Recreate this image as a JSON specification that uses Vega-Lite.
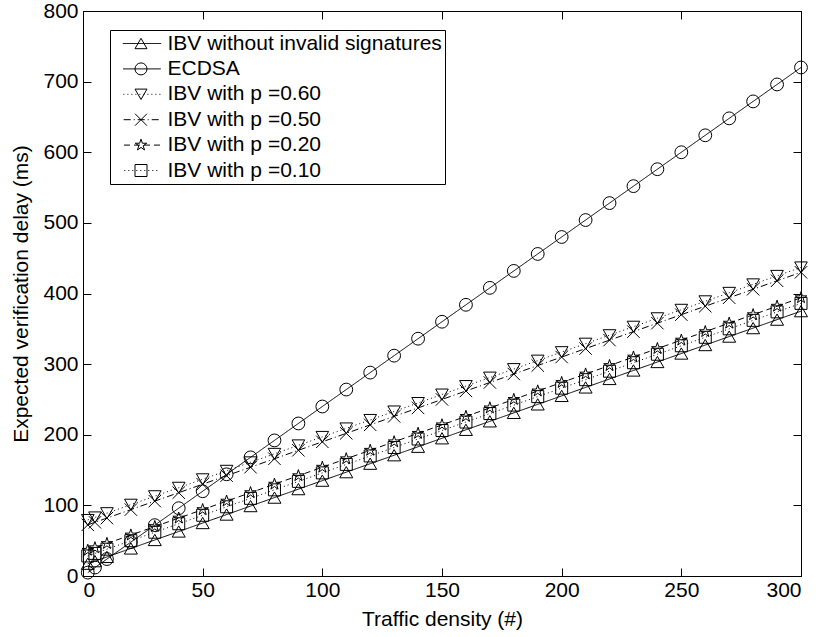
{
  "$schema": "https://vega.github.io/schema/vega-lite/v6.json",
  "width": 718,
  "height": 565,
  "autosize": {"type": "none"},
  "padding": {"left": 83, "top": 11, "right": 19, "bottom": 61},
  "background": "white",
  "config": {
    "font": "Liberation Sans",
    "view": {"stroke": "black", "strokeWidth": 1},
    "axis": {
      "grid": false,
      "labelFont": "Liberation Sans",
      "labelFontSize": 21,
      "labelColor": "black",
      "titleFont": "Liberation Sans",
      "titleFontSize": 21,
      "titleFontWeight": "normal",
      "titleColor": "black",
      "domainColor": "black",
      "domainWidth": 1,
      "tickColor": "black",
      "tickWidth": 1,
      "tickSize": -8
    }
  },
  "data": {
    "values": [
      {"series": "IBV without invalid signatures", "x": 2, "y": 17.4},
      {"series": "IBV without invalid signatures", "x": 5, "y": 21},
      {"series": "IBV without invalid signatures", "x": 10, "y": 27},
      {"series": "IBV without invalid signatures", "x": 20, "y": 39},
      {"series": "IBV without invalid signatures", "x": 30, "y": 51},
      {"series": "IBV without invalid signatures", "x": 40, "y": 63},
      {"series": "IBV without invalid signatures", "x": 50, "y": 75},
      {"series": "IBV without invalid signatures", "x": 60, "y": 87},
      {"series": "IBV without invalid signatures", "x": 70, "y": 99},
      {"series": "IBV without invalid signatures", "x": 80, "y": 111},
      {"series": "IBV without invalid signatures", "x": 90, "y": 123},
      {"series": "IBV without invalid signatures", "x": 100, "y": 135},
      {"series": "IBV without invalid signatures", "x": 110, "y": 147},
      {"series": "IBV without invalid signatures", "x": 120, "y": 159},
      {"series": "IBV without invalid signatures", "x": 130, "y": 171},
      {"series": "IBV without invalid signatures", "x": 140, "y": 183},
      {"series": "IBV without invalid signatures", "x": 150, "y": 195},
      {"series": "IBV without invalid signatures", "x": 160, "y": 207},
      {"series": "IBV without invalid signatures", "x": 170, "y": 219},
      {"series": "IBV without invalid signatures", "x": 180, "y": 231},
      {"series": "IBV without invalid signatures", "x": 190, "y": 243},
      {"series": "IBV without invalid signatures", "x": 200, "y": 255},
      {"series": "IBV without invalid signatures", "x": 210, "y": 267},
      {"series": "IBV without invalid signatures", "x": 220, "y": 279},
      {"series": "IBV without invalid signatures", "x": 230, "y": 291},
      {"series": "IBV without invalid signatures", "x": 240, "y": 303},
      {"series": "IBV without invalid signatures", "x": 250, "y": 315},
      {"series": "IBV without invalid signatures", "x": 260, "y": 327},
      {"series": "IBV without invalid signatures", "x": 270, "y": 339},
      {"series": "IBV without invalid signatures", "x": 280, "y": 351},
      {"series": "IBV without invalid signatures", "x": 290, "y": 363},
      {"series": "IBV without invalid signatures", "x": 300, "y": 375},
      {"series": "ECDSA", "x": 2, "y": 4.8},
      {"series": "ECDSA", "x": 5, "y": 12},
      {"series": "ECDSA", "x": 10, "y": 24},
      {"series": "ECDSA", "x": 20, "y": 48},
      {"series": "ECDSA", "x": 30, "y": 72},
      {"series": "ECDSA", "x": 40, "y": 96},
      {"series": "ECDSA", "x": 50, "y": 120},
      {"series": "ECDSA", "x": 60, "y": 144},
      {"series": "ECDSA", "x": 70, "y": 168},
      {"series": "ECDSA", "x": 80, "y": 192},
      {"series": "ECDSA", "x": 90, "y": 216},
      {"series": "ECDSA", "x": 100, "y": 240},
      {"series": "ECDSA", "x": 110, "y": 264},
      {"series": "ECDSA", "x": 120, "y": 288},
      {"series": "ECDSA", "x": 130, "y": 312},
      {"series": "ECDSA", "x": 140, "y": 336},
      {"series": "ECDSA", "x": 150, "y": 360},
      {"series": "ECDSA", "x": 160, "y": 384},
      {"series": "ECDSA", "x": 170, "y": 408},
      {"series": "ECDSA", "x": 180, "y": 432},
      {"series": "ECDSA", "x": 190, "y": 456},
      {"series": "ECDSA", "x": 200, "y": 480},
      {"series": "ECDSA", "x": 210, "y": 504},
      {"series": "ECDSA", "x": 220, "y": 528},
      {"series": "ECDSA", "x": 230, "y": 552},
      {"series": "ECDSA", "x": 240, "y": 576},
      {"series": "ECDSA", "x": 250, "y": 600},
      {"series": "ECDSA", "x": 260, "y": 624},
      {"series": "ECDSA", "x": 270, "y": 648},
      {"series": "ECDSA", "x": 280, "y": 672},
      {"series": "ECDSA", "x": 290, "y": 696},
      {"series": "ECDSA", "x": 300, "y": 720},
      {"series": "IBV with p =0.60", "x": 2, "y": 79.4},
      {"series": "IBV with p =0.60", "x": 5, "y": 83},
      {"series": "IBV with p =0.60", "x": 10, "y": 89},
      {"series": "IBV with p =0.60", "x": 20, "y": 101},
      {"series": "IBV with p =0.60", "x": 30, "y": 113},
      {"series": "IBV with p =0.60", "x": 40, "y": 125},
      {"series": "IBV with p =0.60", "x": 50, "y": 137},
      {"series": "IBV with p =0.60", "x": 60, "y": 149},
      {"series": "IBV with p =0.60", "x": 70, "y": 161},
      {"series": "IBV with p =0.60", "x": 80, "y": 173},
      {"series": "IBV with p =0.60", "x": 90, "y": 185},
      {"series": "IBV with p =0.60", "x": 100, "y": 197},
      {"series": "IBV with p =0.60", "x": 110, "y": 209},
      {"series": "IBV with p =0.60", "x": 120, "y": 221},
      {"series": "IBV with p =0.60", "x": 130, "y": 233},
      {"series": "IBV with p =0.60", "x": 140, "y": 245},
      {"series": "IBV with p =0.60", "x": 150, "y": 257},
      {"series": "IBV with p =0.60", "x": 160, "y": 269},
      {"series": "IBV with p =0.60", "x": 170, "y": 281},
      {"series": "IBV with p =0.60", "x": 180, "y": 293},
      {"series": "IBV with p =0.60", "x": 190, "y": 305},
      {"series": "IBV with p =0.60", "x": 200, "y": 317},
      {"series": "IBV with p =0.60", "x": 210, "y": 329},
      {"series": "IBV with p =0.60", "x": 220, "y": 341},
      {"series": "IBV with p =0.60", "x": 230, "y": 353},
      {"series": "IBV with p =0.60", "x": 240, "y": 365},
      {"series": "IBV with p =0.60", "x": 250, "y": 377},
      {"series": "IBV with p =0.60", "x": 260, "y": 389},
      {"series": "IBV with p =0.60", "x": 270, "y": 401},
      {"series": "IBV with p =0.60", "x": 280, "y": 413},
      {"series": "IBV with p =0.60", "x": 290, "y": 425},
      {"series": "IBV with p =0.60", "x": 300, "y": 437},
      {"series": "IBV with p =0.50", "x": 2, "y": 72.4},
      {"series": "IBV with p =0.50", "x": 5, "y": 76},
      {"series": "IBV with p =0.50", "x": 10, "y": 82},
      {"series": "IBV with p =0.50", "x": 20, "y": 94},
      {"series": "IBV with p =0.50", "x": 30, "y": 106},
      {"series": "IBV with p =0.50", "x": 40, "y": 118},
      {"series": "IBV with p =0.50", "x": 50, "y": 130},
      {"series": "IBV with p =0.50", "x": 60, "y": 142},
      {"series": "IBV with p =0.50", "x": 70, "y": 154},
      {"series": "IBV with p =0.50", "x": 80, "y": 166},
      {"series": "IBV with p =0.50", "x": 90, "y": 178},
      {"series": "IBV with p =0.50", "x": 100, "y": 190},
      {"series": "IBV with p =0.50", "x": 110, "y": 202},
      {"series": "IBV with p =0.50", "x": 120, "y": 214},
      {"series": "IBV with p =0.50", "x": 130, "y": 226},
      {"series": "IBV with p =0.50", "x": 140, "y": 238},
      {"series": "IBV with p =0.50", "x": 150, "y": 250},
      {"series": "IBV with p =0.50", "x": 160, "y": 262},
      {"series": "IBV with p =0.50", "x": 170, "y": 274},
      {"series": "IBV with p =0.50", "x": 180, "y": 286},
      {"series": "IBV with p =0.50", "x": 190, "y": 298},
      {"series": "IBV with p =0.50", "x": 200, "y": 310},
      {"series": "IBV with p =0.50", "x": 210, "y": 322},
      {"series": "IBV with p =0.50", "x": 220, "y": 334},
      {"series": "IBV with p =0.50", "x": 230, "y": 346},
      {"series": "IBV with p =0.50", "x": 240, "y": 358},
      {"series": "IBV with p =0.50", "x": 250, "y": 370},
      {"series": "IBV with p =0.50", "x": 260, "y": 382},
      {"series": "IBV with p =0.50", "x": 270, "y": 394},
      {"series": "IBV with p =0.50", "x": 280, "y": 406},
      {"series": "IBV with p =0.50", "x": 290, "y": 418},
      {"series": "IBV with p =0.50", "x": 300, "y": 430},
      {"series": "IBV with p =0.20", "x": 2, "y": 36.4},
      {"series": "IBV with p =0.20", "x": 5, "y": 40},
      {"series": "IBV with p =0.20", "x": 10, "y": 46},
      {"series": "IBV with p =0.20", "x": 20, "y": 58},
      {"series": "IBV with p =0.20", "x": 30, "y": 70},
      {"series": "IBV with p =0.20", "x": 40, "y": 82},
      {"series": "IBV with p =0.20", "x": 50, "y": 94},
      {"series": "IBV with p =0.20", "x": 60, "y": 106},
      {"series": "IBV with p =0.20", "x": 70, "y": 118},
      {"series": "IBV with p =0.20", "x": 80, "y": 130},
      {"series": "IBV with p =0.20", "x": 90, "y": 142},
      {"series": "IBV with p =0.20", "x": 100, "y": 154},
      {"series": "IBV with p =0.20", "x": 110, "y": 166},
      {"series": "IBV with p =0.20", "x": 120, "y": 178},
      {"series": "IBV with p =0.20", "x": 130, "y": 190},
      {"series": "IBV with p =0.20", "x": 140, "y": 202},
      {"series": "IBV with p =0.20", "x": 150, "y": 214},
      {"series": "IBV with p =0.20", "x": 160, "y": 226},
      {"series": "IBV with p =0.20", "x": 170, "y": 238},
      {"series": "IBV with p =0.20", "x": 180, "y": 250},
      {"series": "IBV with p =0.20", "x": 190, "y": 262},
      {"series": "IBV with p =0.20", "x": 200, "y": 274},
      {"series": "IBV with p =0.20", "x": 210, "y": 286},
      {"series": "IBV with p =0.20", "x": 220, "y": 298},
      {"series": "IBV with p =0.20", "x": 230, "y": 310},
      {"series": "IBV with p =0.20", "x": 240, "y": 322},
      {"series": "IBV with p =0.20", "x": 250, "y": 334},
      {"series": "IBV with p =0.20", "x": 260, "y": 346},
      {"series": "IBV with p =0.20", "x": 270, "y": 358},
      {"series": "IBV with p =0.20", "x": 280, "y": 370},
      {"series": "IBV with p =0.20", "x": 290, "y": 382},
      {"series": "IBV with p =0.20", "x": 300, "y": 394},
      {"series": "IBV with p =0.10", "x": 2, "y": 28.4},
      {"series": "IBV with p =0.10", "x": 5, "y": 32},
      {"series": "IBV with p =0.10", "x": 10, "y": 38},
      {"series": "IBV with p =0.10", "x": 20, "y": 50},
      {"series": "IBV with p =0.10", "x": 30, "y": 62},
      {"series": "IBV with p =0.10", "x": 40, "y": 74},
      {"series": "IBV with p =0.10", "x": 50, "y": 86},
      {"series": "IBV with p =0.10", "x": 60, "y": 98},
      {"series": "IBV with p =0.10", "x": 70, "y": 110},
      {"series": "IBV with p =0.10", "x": 80, "y": 122},
      {"series": "IBV with p =0.10", "x": 90, "y": 134},
      {"series": "IBV with p =0.10", "x": 100, "y": 146},
      {"series": "IBV with p =0.10", "x": 110, "y": 158},
      {"series": "IBV with p =0.10", "x": 120, "y": 170},
      {"series": "IBV with p =0.10", "x": 130, "y": 182},
      {"series": "IBV with p =0.10", "x": 140, "y": 194},
      {"series": "IBV with p =0.10", "x": 150, "y": 206},
      {"series": "IBV with p =0.10", "x": 160, "y": 218},
      {"series": "IBV with p =0.10", "x": 170, "y": 230},
      {"series": "IBV with p =0.10", "x": 180, "y": 242},
      {"series": "IBV with p =0.10", "x": 190, "y": 254},
      {"series": "IBV with p =0.10", "x": 200, "y": 266},
      {"series": "IBV with p =0.10", "x": 210, "y": 278},
      {"series": "IBV with p =0.10", "x": 220, "y": 290},
      {"series": "IBV with p =0.10", "x": 230, "y": 302},
      {"series": "IBV with p =0.10", "x": 240, "y": 314},
      {"series": "IBV with p =0.10", "x": 250, "y": 326},
      {"series": "IBV with p =0.10", "x": 260, "y": 338},
      {"series": "IBV with p =0.10", "x": 270, "y": 350},
      {"series": "IBV with p =0.10", "x": 280, "y": 362},
      {"series": "IBV with p =0.10", "x": 290, "y": 374},
      {"series": "IBV with p =0.10", "x": 300, "y": 386}
    ]
  },
  "layer": [
    {
      "mark": {"type": "line", "color": "black", "strokeWidth": 1},
      "encoding": {
        "x": {
          "field": "x", "type": "quantitative",
          "scale": {"domain": [0, 300], "nice": false, "zero": false},
          "axis": {"orient": "bottom", "values": [0, 50, 100, 150, 200, 250, 300], "title": "Traffic density (#)", "labelPadding": 11, "titlePadding": 8}
        },
        "y": {
          "field": "y", "type": "quantitative",
          "scale": {"domain": [0, 800], "nice": false},
          "axis": {"orient": "left", "values": [0, 100, 200, 300, 400, 500, 600, 700, 800], "title": "Expected verification delay (ms)", "labelPadding": 13, "titlePadding": 11}
        },
        "strokeDash": {
          "field": "series", "type": "nominal",
          "scale": {
            "domain": ["IBV without invalid signatures", "ECDSA", "IBV with p =0.60", "IBV with p =0.50", "IBV with p =0.20", "IBV with p =0.10"],
            "range": [[1, 0], [1, 0], [1, 3], [7, 3, 1, 3], [6, 4], [1, 3]]
          },
          "legend": {
            "orient": "none", "legendX": 27, "legendY": 19, "title": null,
            "symbolType": "M-2.95,0L2.95,0", "symbolSize": 100, "symbolStrokeColor": "black", "symbolStrokeWidth": 1,
            "symbolOffset": 18.5, "labelOffset": 15, "labelLimit": 600,
            "labelFont": "Liberation Sans", "labelFontSize": 21, "labelColor": "black",
            "rowPadding": 3.4, "padding": 3, "strokeColor": "black"
          }
        }
      }
    },
    {
      "mark": {"type": "point", "filled": false, "color": "black", "strokeWidth": 1, "opacity": 1},
      "encoding": {
        "x": {
          "field": "x", "type": "quantitative",
          "axis": {"orient": "top", "values": [0, 50, 100, 150, 200, 250, 300], "labels": false, "title": null}
        },
        "y": {
          "field": "y", "type": "quantitative",
          "axis": {"orient": "right", "values": [0, 100, 200, 300, 400, 500, 600, 700, 800], "labels": false, "title": null}
        },
        "shape": {
          "field": "series", "type": "nominal",
          "scale": {
            "domain": ["IBV without invalid signatures", "ECDSA", "IBV with p =0.60", "IBV with p =0.50", "IBV with p =0.20", "IBV with p =0.10"],
            "range": ["triangle-up", "circle", "triangle-down", "M-1,-1L1,1M-1,1L1,-1", "M0,-1L0.225,-0.309L0.951,-0.309L0.363,0.118L0.588,0.809L0,0.382L-0.588,0.809L-0.363,0.118L-0.951,-0.309L-0.225,-0.309Z", "square"]
          },
          "legend": {
            "orient": "top-left", "offset": 19, "title": null,
            "symbolSize": 144, "symbolStrokeColor": "black", "symbolFillColor": "white", "symbolStrokeWidth": 1,
            "symbolOffset": 25.5, "labelFont": "Liberation Sans", "labelFontSize": 21, "labelExpr": "' '", "labelOffset": 0, "labelLimit": 600,
            "rowPadding": 3.4, "padding": 3
          }
        },
        "size": {
          "field": "series", "type": "nominal",
          "scale": {
            "domain": ["IBV without invalid signatures", "ECDSA", "IBV with p =0.60", "IBV with p =0.50", "IBV with p =0.20", "IBV with p =0.10"],
            "range": [169, 144, 169, 81, 110, 64]
          },
          "legend": null
        }
      }
    }
  ],
  "resolve": {"axis": {"x": "independent", "y": "independent"}}
}
